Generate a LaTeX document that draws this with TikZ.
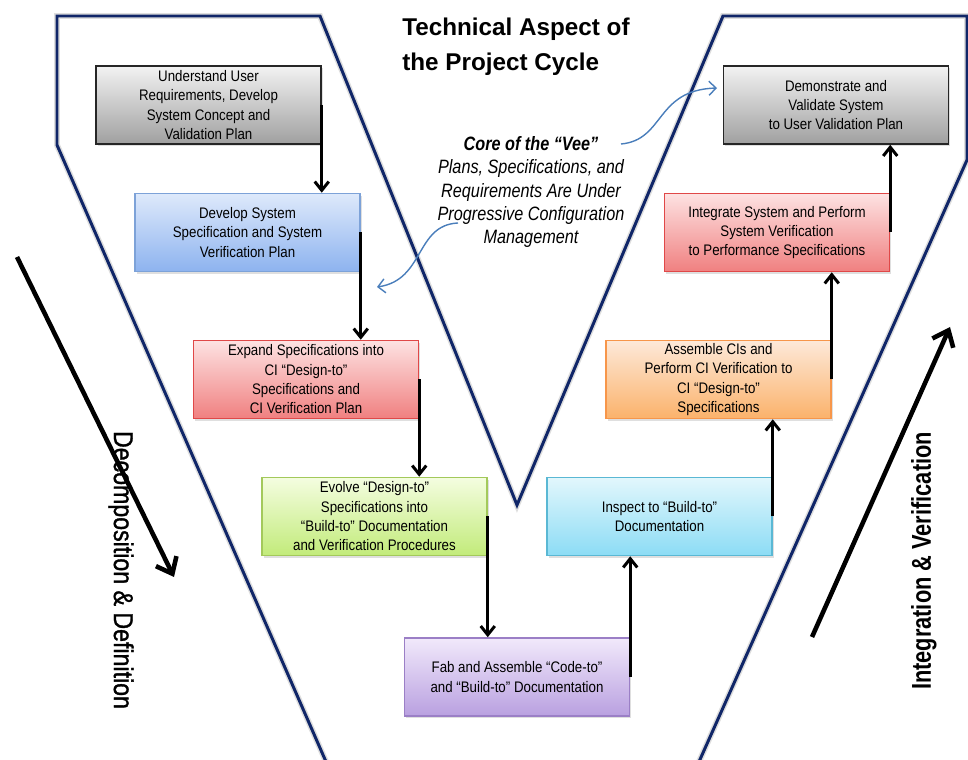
\documentclass[tikz,border=0pt]{standalone}
\usepackage{fontspec}
\setmainfont{Liberation Sans}
\newfontfamily\boxfont[FakeStretch=0.87]{Liberation Sans}
\newfontfamily\notefont[FakeStretch=0.84]{Liberation Sans}
\newfontfamily\sidefont[FakeStretch=0.8]{Liberation Sans}
\newfontfamily\decfont[FakeStretch=0.85, FakeBold=1.2]{Liberation Sans}
\usepackage{xcolor}
\usepackage{tikz}
\usetikzlibrary{arrows.meta, positioning, shadows}

\definecolor{veenavy}{RGB}{16,38,104}
\definecolor{noteblue}{RGB}{74,126,187}

\begin{document}
\begin{tikzpicture}[
    x=0.02cm, y=-0.02cm,
    phase/.style={rectangle, draw, line width=0.9pt, minimum width=4.5cm, minimum height=1.56cm,
        inner sep=1pt, align=center, font=\boxfont\fontsize{8.7}{11}\selectfont,
        drop shadow={opacity=0.25, shadow xshift=1pt, shadow yshift=-1.2pt}},
    grayshade/.style={top color={rgb,255:red,242;green,242;blue,242}, bottom color={rgb,255:red,160;green,160;blue,160}, draw={rgb,255:red,38;green,38;blue,38}},
    blueshade/.style={top color={rgb,255:red,222;green,233;blue,251}, bottom color={rgb,255:red,141;green,179;blue,239}, draw={rgb,255:red,125;green,162;blue,216}},
    redshade/.style={top color={rgb,255:red,253;green,226;blue,226}, bottom color={rgb,255:red,240;green,128;blue,128}, draw={rgb,255:red,224;green,72;blue,72}},
    greenshade/.style={top color={rgb,255:red,244;green,253;blue,224}, bottom color={rgb,255:red,194;green,235;blue,122}, draw={rgb,255:red,163;green,201;blue,91}},
    purpleshade/.style={top color={rgb,255:red,241;green,233;blue,251}, bottom color={rgb,255:red,185;green,160;blue,224}, draw={rgb,255:red,155;green,127;blue,198}},
    cyanshade/.style={top color={rgb,255:red,226;green,247;blue,252}, bottom color={rgb,255:red,140;green,220;blue,245}, draw={rgb,255:red,90;green,184;blue,212}},
    orangeshade/.style={top color={rgb,255:red,253;green,233;blue,217}, bottom color={rgb,255:red,251;green,178;blue,107}, draw={rgb,255:red,247;green,150;blue,74}},
    flow/.style={-{Straight Barb[length=5pt,width=8pt]}, line width=1.7pt},
    bigarrow/.style={-{Straight Barb[length=8pt,width=13pt]}, line width=2.6pt},
    noteline/.style={-{Straight Barb[length=4pt,width=8pt]}, line width=0.8pt, draw=noteblue},
    vee/.style={line width=1.7pt, draw=veenavy},
    veeglow/.style={line width=3.4pt, draw=black!13}
]
    \useasboundingbox (0,0) rectangle (968,760);

    % the Vee outline
    \draw[veeglow] (57,16) -- (320,16) -- (517,505) -- (723,16) -- (967,16) -- (967,160)
        -- (698,764) -- (327,764) -- (57,145) -- cycle;
    \draw[vee] (57,16) -- (320,16) -- (517,505) -- (723,16) -- (967,16) -- (967,160)
        -- (698,764) -- (327,764) -- (57,145) -- cycle;

    % left leg
    \node[phase, grayshade] (user) at (208.5,105) {Understand User\\Requirements, Develop\\System Concept and\\Validation Plan};
    \node[phase, blueshade] (sysspec) at (247.5,232.5) {Develop System\\Specification and System\\Verification Plan};
    \node[phase, redshade] (cispec) at (306,379.5) {Expand Specifications into\\CI “Design-to”\\Specifications and\\CI Verification Plan};
    \node[phase, greenshade] (evolve) at (374.5,516.5) {Evolve “Design-to”\\Specifications into\\“Build-to” Documentation\\and Verification Procedures};
    % bottom
    \node[phase, purpleshade] (fab) at (517,677) {Fab and Assemble “Code-to”\\and “Build-to” Documentation};
    % right leg
    \node[phase, cyanshade] (inspect) at (659.5,516.5) {Inspect to “Build-to”\\Documentation};
    \node[phase, orangeshade] (assemble) at (718.5,379.5) {Assemble CIs and\\Perform CI Verification to\\CI “Design-to”\\Specifications};
    \node[phase, redshade] (integrate) at (777,232.5) {Integrate System and Perform\\System Verification\\to Performance Specifications};
    \node[phase, grayshade] (demo) at (836,105) {Demonstrate and\\Validate System\\to User Validation Plan};

    \draw[flow] (user.east) -- (user.east |- sysspec.north);
    \draw[flow] (sysspec.east) -- (sysspec.east |- cispec.north);
    \draw[flow] (cispec.east) -- (cispec.east |- evolve.north);
    \draw[flow] (evolve.east) -- (evolve.east |- fab.north);
    \draw[flow] (fab.east) -- (fab.east |- inspect.south);
    \draw[flow] (inspect.east) -- (inspect.east |- assemble.south);
    \draw[flow] (assemble.east) -- (assemble.east |- integrate.south);
    \draw[flow] (integrate.east) -- (integrate.east |- demo.south);

    % titles and notes
    \node[anchor=north west, inner sep=0, align=left, font=\bfseries\fontsize{13.8}{19.7}\selectfont] (title) at (402,18) {Technical Aspect of\\the Project Cycle};
    \node[anchor=north, inner sep=0, align=center, font=\notefont\itshape\fontsize{11}{13.3}\selectfont] (core) at (531,136)
        {\bfseries Core of the “Vee”\\Plans, Specifications, and\\Requirements Are Under\\Progressive Configuration\\Management};

    \coordinate (coreout) at (621,144);
    \coordinate (demoin) at (717,88);
    \coordinate (progout) at (458,223);
    \coordinate (sysin) at (377,287);
    \draw[noteline] (coreout) .. controls (665,140) and (655,90) .. (demoin);
    \draw[noteline] (progout) .. controls (415,225) and (425,280) .. (sysin);

    % side arrows
    \coordinate (decstart) at (17,257);
    \coordinate (decend) at (174,577);
    \coordinate (intstart) at (812,637);
    \coordinate (intend) at (950,327);
    \draw[bigarrow] (decstart) -- (decend);
    \draw[bigarrow] (intstart) -- (intend);
    \node[rotate=-90, font=\decfont\fontsize{15.5}{18}\selectfont] (decomp) at (121,570) {Decomposition \& Definition};
    \node[rotate=90, font=\sidefont\bfseries\fontsize{15.5}{18}\selectfont] (integ) at (924,561) {Integration \& Verification};
\end{tikzpicture}
\end{document}
